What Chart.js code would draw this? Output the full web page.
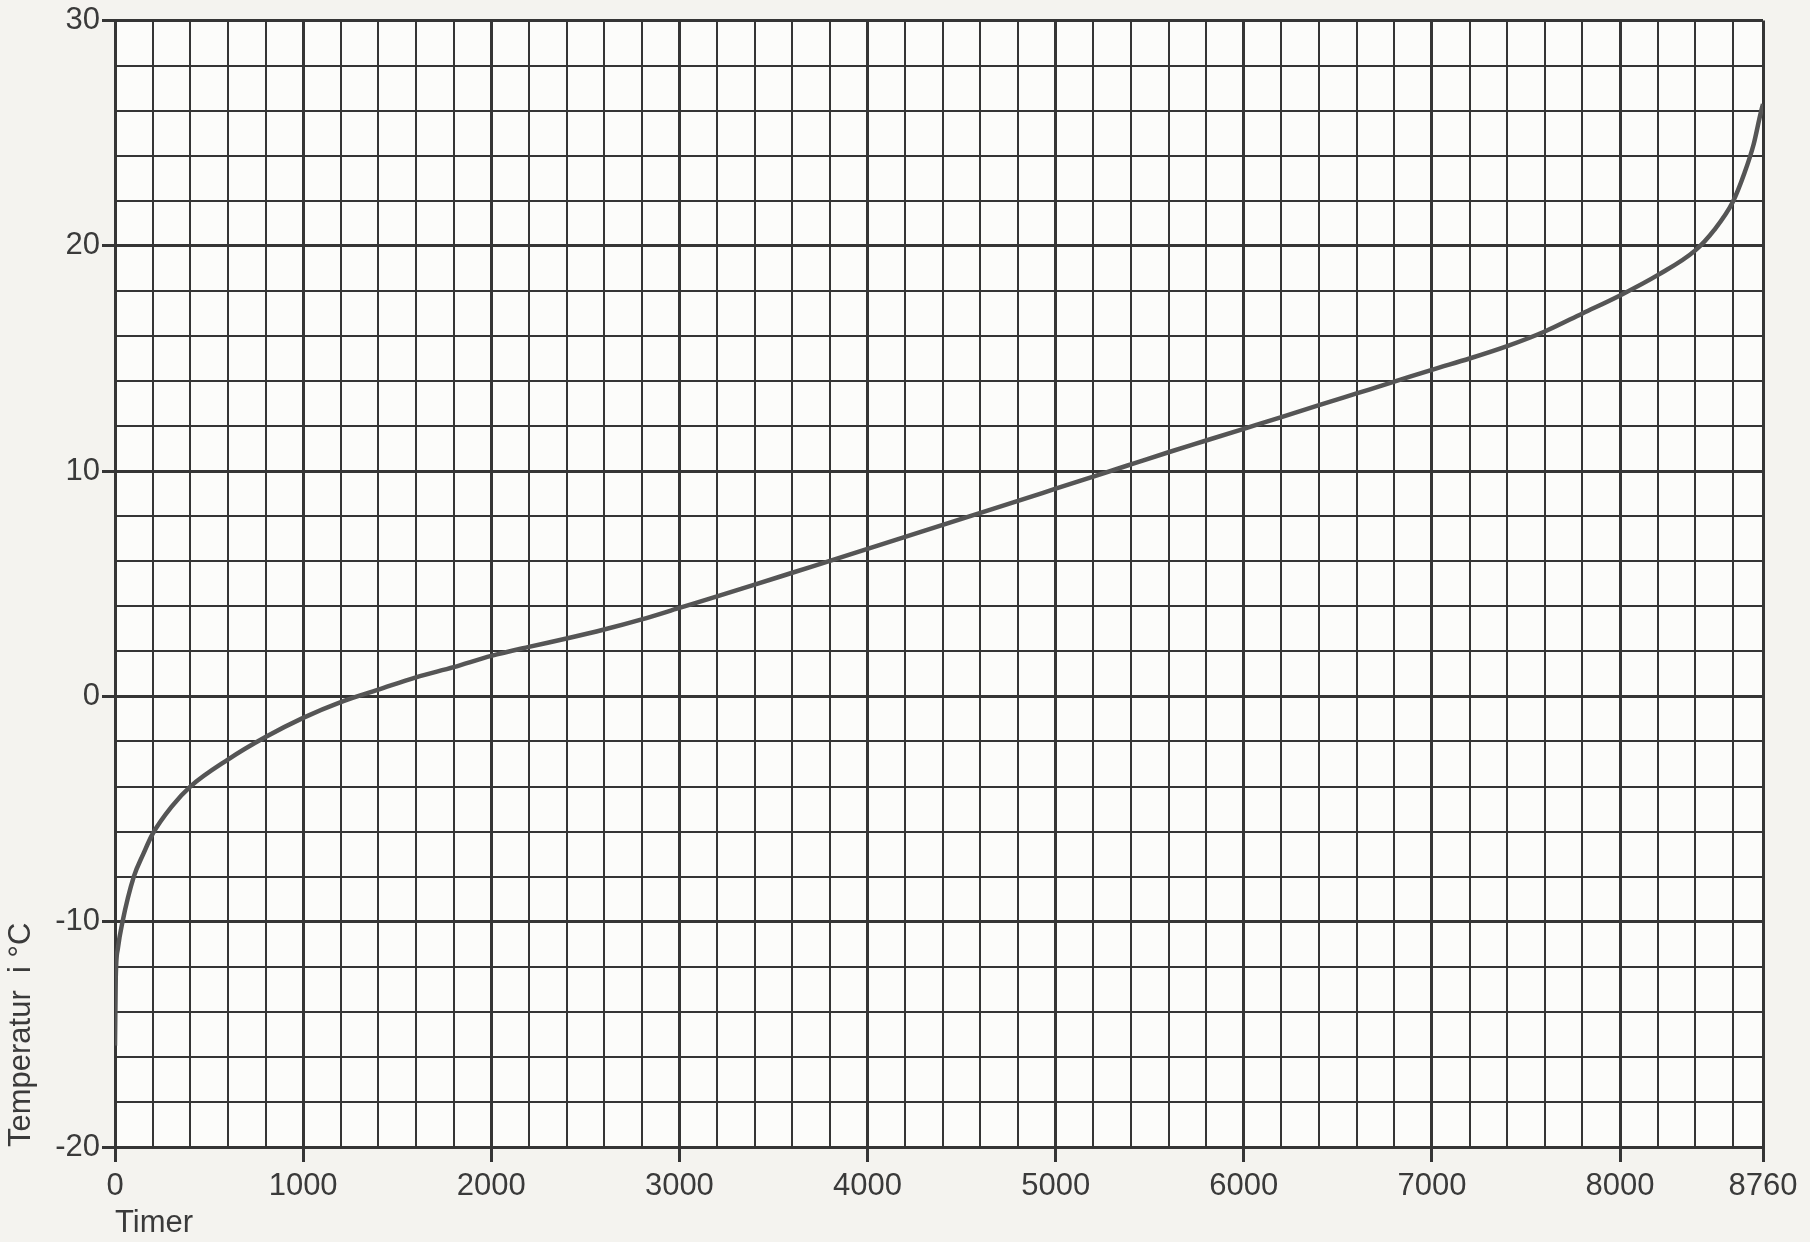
<!DOCTYPE html>
<html>
<head>
<meta charset="utf-8">
<title>Varighetskurve for utetemperatur</title>
<script src="https://cdn.jsdelivr.net/npm/chart.js@4/dist/chart.umd.min.js"></script>
<style>
  html, body { margin: 0; padding: 0; background: #f4f3ef; }
  #wrap { width: 1810px; height: 1242px; position: relative; }
</style>
</head>
<body>
<div id="wrap"><canvas id="chart"></canvas></div>
<script>
// Sorted hourly temperatures over one year (duration curve)
const hours = [0, 4, 15, 40, 100, 150, 200, 300, 400, 600, 800, 1000, 1200, 1400, 1600, 1800,
  2000, 2200, 2400, 2600, 2800, 3000, 3200, 3400, 3600, 3800, 4000, 4200, 4400, 4600, 4800,
  5000, 5200, 5400, 5600, 5800, 6000, 6200, 6400, 6600, 6800, 7000, 7200, 7400, 7600, 7800,
  8000, 8200, 8400, 8500, 8600, 8660, 8710, 8745, 8760];
const temperatures = [-15.5, -12.5, -11.2, -10, -8, -7, -6.1, -4.9, -4.0, -2.8, -1.8, -0.95, -0.25, 0.3, 0.85, 1.3,
  1.8, 2.2, 2.57, 2.97, 3.42, 3.93, 4.44, 4.96, 5.49, 6.02, 6.55, 7.08, 7.62, 8.15, 8.68,
  9.22, 9.76, 10.3, 10.84, 11.36, 11.88, 12.4, 12.93, 13.45, 13.97, 14.5, 15.0, 15.55, 16.2, 17.0,
  17.8, 18.7, 19.8, 20.7, 21.96, 23.2, 24.5, 25.8, 26.3];

// Axis ranges and grid steps
const hourMin = 0, hourMax = 8760, hourStep = 200, hourLabelStep = 1000;
const tempMin = -20, tempMax = 30, tempStep = 2, tempLabelStep = 10;

const xTitle = 'Timer';
const yTitle = 'Temperatur  i °C';

const gridColor = '#353535';
const labelFont = { family: 'Liberation Sans, Arial, sans-serif', size: 31 };

function isHourMajor(v) { return v % hourLabelStep === 0 || v === hourMax; }
function isTempMajor(v) { return v % tempLabelStep === 0; }

const background = {
  id: 'paper',
  beforeDraw(chart) {
    const { ctx, chartArea: a } = chart;
    ctx.save();
    ctx.fillStyle = '#f4f3ef';
    ctx.fillRect(0, 0, chart.width, chart.height);
    ctx.fillStyle = '#fcfcfa';
    ctx.fillRect(a.left, a.top, a.right - a.left, a.bottom - a.top);
    ctx.restore();
  }
};

const points = hours.map((h, i) => ({ x: h, y: temperatures[i] }));

new Chart(document.getElementById('chart'), {
  type: 'line',
  data: {
    datasets: [{
      data: points,
      borderColor: '#555555',
      borderWidth: 4.5,
      pointRadius: 0,
      cubicInterpolationMode: 'monotone',
      fill: false
    }]
  },
  options: {
    responsive: true,
    maintainAspectRatio: false,
    animation: false,
    layout: { padding: { left: 0, top: 20, right: 47, bottom: 0 } },
    plugins: { legend: { display: false }, tooltip: { enabled: false } },
    scales: {
      x: {
        type: 'linear',
        min: hourMin,
        max: hourMax,
        afterBuildTicks(scale) {
          const t = [];
          for (let v = hourMin; v < hourMax; v += hourStep) t.push({ value: v });
          t.push({ value: hourMax });
          scale.ticks = t;
        },
        afterFit(scale) { scale.height = 95; },
        ticks: {
          autoSkip: false,
          maxRotation: 0,
          minRotation: 0,
          padding: 6,
          color: '#3a3a3a',
          font: labelFont,
          callback: (v) => isHourMajor(v) ? String(v) : ''
        },
        grid: {
          color: gridColor,
          lineWidth: (ctx) => isHourMajor(ctx.tick.value) ? 3 : 2,
          drawTicks: true,
          tickLength: 15,
          tickWidth: 3,
          tickColor: (ctx) => isHourMajor(ctx.tick.value) ? gridColor : 'rgba(0,0,0,0)'
        },
        border: { display: true, color: gridColor, width: 3 },
        title: {
          display: true,
          text: xTitle,
          align: 'start',
          color: '#3a3a3a',
          font: labelFont,
          padding: { top: 0, bottom: 0 }
        }
      },
      y: {
        type: 'linear',
        min: tempMin,
        max: tempMax,
        afterBuildTicks(scale) {
          const t = [];
          for (let v = tempMin; v <= tempMax; v += tempStep) t.push({ value: v });
          scale.ticks = t;
        },
        afterFit(scale) { scale.width = 115; },
        ticks: {
          autoSkip: false,
          padding: 2,
          color: '#3a3a3a',
          font: labelFont,
          callback: (v) => isTempMajor(v) ? String(v) : ''
        },
        grid: {
          color: gridColor,
          lineWidth: (ctx) => isTempMajor(ctx.tick.value) ? 3 : 2,
          drawTicks: true,
          tickLength: 13,
          tickWidth: 3,
          tickColor: (ctx) => isTempMajor(ctx.tick.value) ? gridColor : 'rgba(0,0,0,0)'
        },
        border: { display: true, color: gridColor, width: 3 },
        title: {
          display: true,
          text: yTitle,
          align: 'start',
          color: '#3a3a3a',
          font: labelFont,
          padding: { top: 3, bottom: 0 }
        }
      }
    }
  },
  plugins: [background]
});
</script>
</body>
</html>
